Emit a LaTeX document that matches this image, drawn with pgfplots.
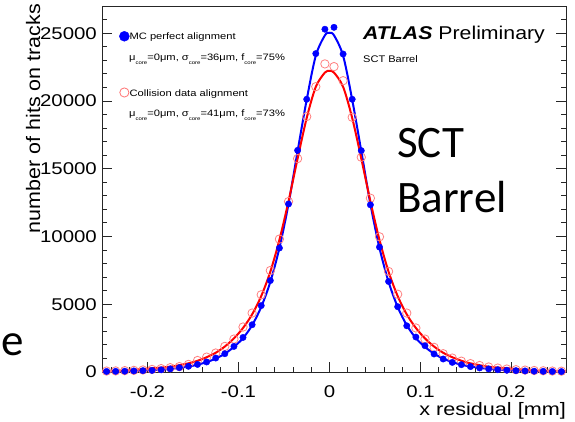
\documentclass[border=0pt]{standalone}
\usepackage{fontspec}
\setmainfont{Liberation Sans}
\usepackage{graphicx}
\usepackage{pgfplots}
\pgfplotsset{compat=1.18}
\newfontfamily\rootfont[FakeStretch=1.2]{Liberation Sans}
\newfontfamily\plainfont{Liberation Sans}
\newfontfamily\ylabfont[FakeStretch=1.1]{Liberation Sans}
\newfontfamily\atlasfont[FakeStretch=1.15]{Liberation Sans}
\newfontfamily\slidefont{Carlito}
\newcommand{\sub}[1]{\raisebox{-3.5pt}{\fontsize{5}{5}\selectfont #1}}

\pgfplotstableread{
x y
-0.245 40
-0.235 50
-0.225 60
-0.215 80
-0.205 100
-0.195 120
-0.185 160
-0.175 230
-0.165 320
-0.155 420
-0.145 560
-0.135 740
-0.125 1030
-0.115 1350
-0.105 1890
-0.095 2550
-0.085 3490
-0.075 4900
-0.065 6750
-0.055 9150
-0.045 12400
-0.035 16360
-0.025 20130
-0.015 23500
-0.005 25300
0.005 25440
0.015 23470
0.025 20130
0.035 16340
0.045 12340
0.055 9220
0.065 6680
0.075 4820
0.085 3410
0.095 2580
0.105 1940
0.115 1330
0.125 960
0.135 710
0.145 540
0.155 400
0.165 300
0.175 230
0.185 170
0.195 130
0.205 100
0.215 80
0.225 60
0.235 50
0.245 40
0.255 30
}\mcdata

\pgfplotstableread{
x y
-0.245 70
-0.235 80
-0.225 100
-0.215 120
-0.205 150
-0.195 190
-0.185 250
-0.175 320
-0.165 400
-0.155 560
-0.145 850
-0.135 1100
-0.125 1400
-0.115 1890
-0.105 2430
-0.095 3320
-0.085 4350
-0.075 5700
-0.065 7490
-0.055 9810
-0.045 12580
-0.035 15750
-0.025 18850
-0.015 21060
-0.005 22740
0.005 22540
0.015 21500
0.025 18800
0.035 15850
0.045 12830
0.055 9980
0.065 7420
0.075 5740
0.085 4350
0.095 3250
0.105 2430
0.115 1820
0.125 1350
0.135 1030
0.145 800
0.155 620
0.165 480
0.175 370
0.185 290
0.195 220
0.205 170
0.215 140
0.225 110
0.235 90
0.245 70
0.255 60
}\coldata

\pgfplotstableread{
x y
-0.25 30
-0.225 60
-0.2 120
-0.175 230
-0.155 400
-0.145 540
-0.135 730
-0.125 990
-0.115 1350
-0.105 1850
-0.095 2500
-0.085 3450
-0.075 4800
-0.065 6650
-0.055 9150
-0.045 12400
-0.035 16300
-0.025 20100
-0.015 23350
-0.005 24850
0 25040
0.005 24850
0.015 23350
0.025 20100
0.035 16300
0.045 12400
0.055 9150
0.065 6650
0.075 4800
0.085 3450
0.095 2500
0.105 1850
0.115 1350
0.125 990
0.135 730
0.145 540
0.155 400
0.175 230
0.2 120
0.225 60
0.25 30
0.26 25
}\mcfit

\pgfplotstableread{
x y
-0.25 60
-0.225 120
-0.2 250
-0.175 390
-0.155 640
-0.145 830
-0.135 1090
-0.125 1420
-0.115 1880
-0.105 2480
-0.095 3250
-0.085 4250
-0.075 5600
-0.065 7400
-0.055 9750
-0.045 12600
-0.035 15750
-0.025 18750
-0.015 21050
-0.005 22100
0 22220
0.005 22100
0.015 21050
0.025 18750
0.035 15750
0.045 12600
0.055 9750
0.065 7400
0.075 5600
0.085 4250
0.095 3250
0.105 2480
0.115 1880
0.125 1420
0.135 1090
0.145 830
0.155 640
0.175 390
0.2 250
0.225 120
0.25 60
0.26 50
}\colfit

\begin{document}
\begin{tikzpicture}[x=1pt,y=1pt]
\useasboundingbox (0,0) rectangle (575,421);
\begin{axis}[
  at={(102pt,49pt)}, anchor=south west,
  scale only axis, width=464pt, height=365pt,
  xmin=-0.25, xmax=0.26, ymin=0, ymax=26940,
  axis line style={black!85, line width=1pt},
  tick align=inside,
  xtick pos=bottom, ytick pos=both,
  xtick={-0.2,-0.1,0,0.1,0.2},
  xticklabel={\scalebox{1.2}[1]{\fontsize{17}{17}\selectfont\plainfont\pgfmathprintnumber[assume math mode=true,precision=2]{\tick}}},
  minor xtick={-0.24,-0.22,-0.18,-0.16,-0.14,-0.12,-0.08,-0.06,-0.04,-0.02,0.02,0.04,0.06,0.08,0.12,0.14,0.16,0.18,0.22,0.24},
  ytick={0,5000,10000,15000,20000,25000},
  yticklabel={\scalebox{1.2}[1]{\fontsize{17}{17}\selectfont\plainfont\pgfmathprintnumber[assume math mode=true,1000 sep={},fixed,precision=0]{\tick}}},
  minor ytick={1000,2000,3000,4000,6000,7000,8000,9000,11000,12000,13000,14000,16000,17000,18000,19000,21000,22000,23000,24000,26000},
  scaled ticks=false,
  major tick length=10pt, minor tick length=5pt,
  every tick/.style={black!85, line width=1pt},
  ticklabel style={inner sep=0pt},
  yticklabel style={xshift=-5pt},
  xticklabel style={yshift=-13pt},
  legend style={at={(rel axis cs:0.037,0.934)}, anchor=north west, draw=none, fill=none,
    inner sep=0pt, outer sep=0pt, row sep=46pt, column sep=0pt,
    font={\fontsize{9.3}{9.3}\selectfont\rootfont}, nodes={inner sep=0pt}},
  legend cell align=left,
]
\addlegendimage{legend image code/.code={\fill[blue] (5pt,1pt) circle (5pt);}}
\addlegendentry{MC perfect alignment}
\addlegendimage{legend image code/.code={\draw[red!55, line width=0.8pt] (5pt,1pt) circle (4.6pt);}}
\addlegendentry{Collision data alignment}

\addplot[only marks, mark=o, mark size=4.2pt, red!50, line width=0.8pt, forget plot] table {\coldata};
\addplot[only marks, mark=*, mark size=3.2pt, blue, forget plot] table {\mcdata};
\addplot[blue, line width=2pt, smooth, no marks, forget plot] table {\mcfit};
\addplot[red, line width=2pt, smooth, no marks, forget plot] table {\colfit};
\end{axis}
\node[anchor=base west, inner sep=0pt] at (129,360.3) {\fontsize{9.3}{9.3}\selectfont\rootfont μ\sub{core}=0μm, σ\sub{core}=36μm, f\sub{core}=75\%};
\node[anchor=base west, inner sep=0pt] at (129,304.3) {\fontsize{9.3}{9.3}\selectfont\rootfont μ\sub{core}=0μm, σ\sub{core}=41μm, f\sub{core}=73\%};
\node[anchor=base east, inner sep=0pt] at (566,6) {\fontsize{18}{18}\selectfont\rootfont x residual [mm]};
\node[anchor=base east, rotate=90, inner sep=0pt] at (40,417) {\fontsize{19.5}{19.5}\selectfont\ylabfont number of hits on tracks};
\node[anchor=base west, inner sep=0pt] at (363,381) {\fontsize{18.5}{18.5}\selectfont\atlasfont\bfseries\itshape ATLAS \mdseries\upshape Preliminary};
\node[anchor=base west, inner sep=0pt] at (363,358) {\fontsize{9.6}{9.6}\selectfont\atlasfont SCT Barrel};
\node[anchor=base west, inner sep=0pt] at (397,264) {\fontsize{45}{45}\selectfont\slidefont SCT};
\node[anchor=base west, inner sep=0pt] at (397,209) {\fontsize{45}{45}\selectfont\slidefont Barrel};
\node[anchor=base west, inner sep=0pt] at (1,66) {\fontsize{45}{45}\selectfont\slidefont e};
\end{tikzpicture}
\end{document}
